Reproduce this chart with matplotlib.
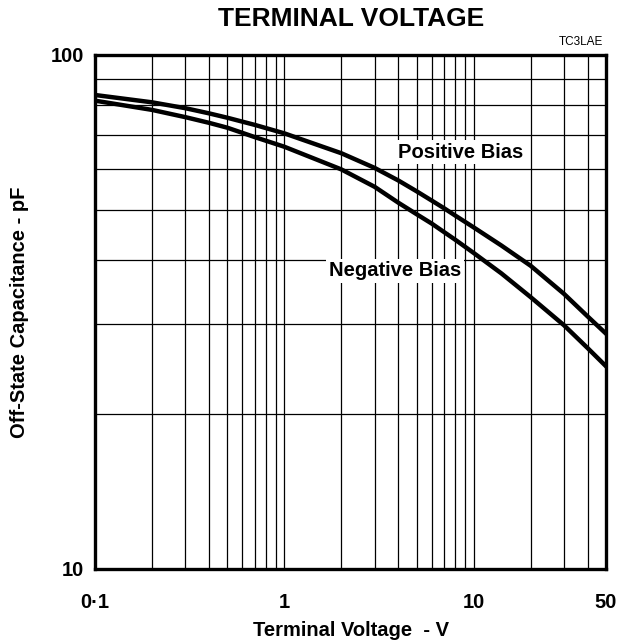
import matplotlib
matplotlib.use("Agg")
import matplotlib.pyplot as plt
from matplotlib.ticker import FixedLocator, NullFormatter

plt.rcParams['font.family'] = ['Liberation Sans', 'DejaVu Sans']

# data (V, pF)
voltage = [0.1, 0.2, 0.3, 0.4, 0.5, 0.7, 1, 2, 3, 4, 5, 6, 7, 8, 10, 14, 20, 30, 40, 50]
positive_bias = [83.6, 80.9, 78.8, 77.0, 75.5, 73.1, 70.4, 64.4, 60.3, 57.0, 54.3, 52.1,
                 50.3, 48.7, 46.2, 42.6, 38.9, 34.3, 31.0, 28.7]
negative_bias = [81.5, 78.2, 75.7, 73.8, 72.2, 69.2, 66.3, 59.9, 55.4, 51.6, 49.0, 47.0,
                 45.2, 43.7, 41.2, 37.6, 33.8, 29.8, 26.9, 24.8]

x_ticks = [0.1, 1, 10, 50]
x_tick_labels = ['0\u00b71', '1', '10', '50']
x_grid = [0.2, 0.3, 0.4, 0.5, 0.6, 0.7, 0.8, 0.9, 2, 3, 4, 5, 6, 7, 8, 9, 20, 30, 40]
y_ticks = [10, 100]
y_grid = [20, 30, 40, 50, 60, 70, 80, 90]

fig = plt.figure(figsize=(6.17, 6.43), dpi=100)
ax = fig.add_axes([95 / 617, 1 - 569 / 643, 511 / 617, 514 / 643])

ax.set_xscale('log')
ax.set_yscale('log')
ax.set_xlim(0.1, 50)
ax.set_ylim(10, 100)

# curves
ax.plot(voltage, positive_bias, color='black', lw=3.2, solid_joinstyle='round', zorder=4)
ax.plot(voltage, negative_bias, color='black', lw=3.2, solid_joinstyle='round', zorder=4)

# grid
ax.xaxis.set_major_locator(FixedLocator(x_ticks))
ax.xaxis.set_minor_locator(FixedLocator(x_grid))
ax.yaxis.set_major_locator(FixedLocator(y_ticks))
ax.yaxis.set_minor_locator(FixedLocator(y_grid))
ax.xaxis.set_minor_formatter(NullFormatter())
ax.yaxis.set_minor_formatter(NullFormatter())
ax.set_xticklabels(x_tick_labels)
ax.set_yticklabels(['10', '100'])
ax.grid(which='both', color='black', lw=0.9)
ax.set_axisbelow(True)
ax.tick_params(which='both', length=0)
ax.tick_params(axis='x', pad=17, labelsize=14.5)
ax.tick_params(axis='y', pad=8, labelsize=14.5)
for lab in ax.get_xticklabels() + ax.get_yticklabels():
    lab.set_fontweight('bold')

for sp in ax.spines.values():
    sp.set_linewidth(2.4)
    sp.set_zorder(5)

# curve labels (pixel positions, origin bottom-left)
ax.text(461, 643 - 152, 'Positive Bias', transform=None, fontsize=14.5, fontweight='bold',
        ha='center', va='center', zorder=3,
        bbox=dict(facecolor='white', edgecolor='none', pad=2))
ax.text(395, 643 - 271, 'Negative Bias', transform=None, fontsize=14.5, fontweight='bold',
        ha='center', va='center', zorder=3,
        bbox=dict(facecolor='white', edgecolor='none', pad=2))

fig.text(351 / 617, 1 - 19 / 643, 'TERMINAL VOLTAGE', fontsize=19, fontweight='bold',
         ha='center', va='center')
fig.text(603 / 617, 1 - 42 / 643, 'TC3LAE', fontsize=8.5, ha='right', va='center')
fig.text(351 / 617, 1 - 631 / 643, 'Terminal Voltage  - V', fontsize=14.5, fontweight='bold',
         ha='center', va='center')
fig.text(20 / 617, 1 - 312 / 643, 'Off-State Capacitance - pF', fontsize=14.5, fontweight='bold',
         ha='center', va='center', rotation=90)

fig.savefig('out.png', dpi=100)
